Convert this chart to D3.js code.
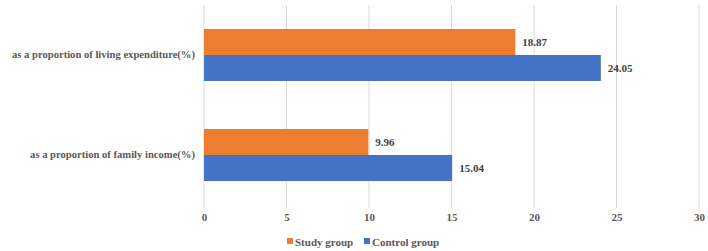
<!DOCTYPE html>
<html><head><meta charset="utf-8">
<script src="https://cdn.jsdelivr.net/npm/d3@7"></script>
<style>body{margin:0;background:#fff;} svg{display:block;}</style>
</head><body>
<svg id="c" width="708" height="251"></svg>
<script>
const categories = ["as a proportion of living expenditure(%)", "as a proportion of family income(%)"];
const seriesNames = ["Study group", "Control group"];
const studyValues = [18.87, 9.96];
const controlValues = [24.05, 15.04];
const xTicks = [0, 5, 10, 15, 20, 25, 30];
const colors = ["#ED7D31", "#4472C4"];

const svg = d3.select("#c");
const font = "'Liberation Serif','Times New Roman',serif";
const x = d3.scaleLinear().domain([0, 30]).range([204, 699]);
const y = d3.scaleBand().domain(categories).range([5, 205]).paddingInner(0.48).paddingOuter(0.24);
const sub = d3.scaleBand().domain(seriesNames).range([0, y.bandwidth()]);

svg.append("g").selectAll("line").data(xTicks).join("line")
  .attr("x1", d => x(d)).attr("x2", d => x(d))
  .attr("y1", 5).attr("y2", 208)
  .attr("stroke", "#d9d9d9").attr("stroke-width", 1);

const ax = svg.append("g").attr("transform", "translate(0,208)")
  .call(d3.axisBottom(x).tickValues(xTicks).tickSize(0).tickPadding(5).tickFormat(d3.format("d")));
ax.select(".domain").remove();
ax.selectAll("text").attr("font-family", font).attr("font-weight", "bold").attr("font-size", 11).attr("fill", "#595959");

const ay = svg.append("g").attr("transform", "translate(195,0)")
  .call(d3.axisLeft(y).tickSize(0).tickPadding(0));
ay.select(".domain").remove();
ay.selectAll("text").attr("font-family", font).attr("font-weight", "bold").attr("font-size", 10.6).attr("fill", "#595959");

const data = seriesNames.map((s, i) => ({ s, vals: i === 0 ? studyValues : controlValues, c: colors[i] }));
data.forEach(ser => {
  const g = svg.append("g");
  g.selectAll("rect").data(categories).join("rect")
    .attr("x", x(0)).attr("y", (d) => y(d) + sub(ser.s))
    .attr("width", (d, i) => x(ser.vals[i]) - x(0))
    .attr("height", sub.bandwidth()).attr("fill", ser.c);
  g.selectAll("text").data(categories).join("text")
    .attr("x", (d, i) => x(ser.vals[i]) + 7)
    .attr("y", (d) => y(d) + sub(ser.s) + sub.bandwidth() / 2)
    .attr("dy", "0.35em")
    .attr("font-family", font).attr("font-weight", "bold").attr("font-size", 11).attr("fill", "#404040")
    .text((d, i) => ser.vals[i].toFixed(2));
});

const legX = [287, 364];
const leg = svg.append("g").selectAll("g").data(data).join("g")
  .attr("transform", (d, i) => `translate(${legX[i]},242)`);
leg.append("rect").attr("x", 0).attr("y", -4).attr("width", 6).attr("height", 6).attr("fill", d => d.c);
leg.append("text").attr("x", 8).attr("y", 0).attr("dy", "0.35em")
  .attr("font-family", font).attr("font-weight", "bold").attr("font-size", 11).attr("fill", "#595959")
  .text(d => d.s);
</script>
</body></html>
